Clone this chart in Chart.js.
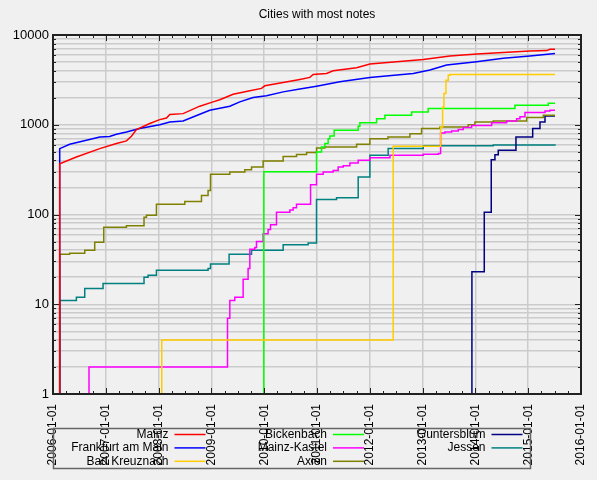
<!DOCTYPE html>
<html>
<head>
<meta charset="utf-8">
<title>Cities with most notes</title>
<script src="https://cdn.jsdelivr.net/npm/chart.js@4/dist/chart.umd.min.js"></script>
<style>
  html, body { margin: 0; padding: 0; background: #f0f0f0; }
  canvas { display: block; }
</style>
</head>
<body>
<canvas id="notesChart" width="597" height="480"></canvas>
<script>
// Cities with most notes — cumulative note counts, log scale

const TITLE = 'Cities with most notes';

// x axis: years, labelled as YYYY-01-01
const xTickYears = [2006, 2007, 2008, 2009, 2010, 2011, 2012, 2013, 2014, 2015, 2016];
// y axis: labelled decades, gridlines at every 1..9 step
const yTickLabels = [1, 10, 100, 1000, 10000];
const yMinorSteps = [1, 2, 3, 4, 5, 6, 7, 8, 9];

const cities = ['Mainz', 'Frankfurt am Main', 'Bad Kreuznach', 'Bickenbach',
                'Mainz-Kastel', 'Axien', 'Guntersblum', 'Jessen'];

// dates as decimal years, values = number of notes
const mainzYears = [2006.127, 2006.127, 2006.443, 2006.885, 2007.201, 2007.391, 2007.486, 2007.580,
    2007.832, 2008.022, 2008.149, 2008.212, 2008.464, 2008.780, 2009.032, 2009.159, 2009.411,
    2009.728, 2009.949, 2010.012, 2010.359, 2010.675, 2010.864, 2010.927, 2011.181, 2011.306,
    2011.750, 2012.002, 2012.507, 2013.012, 2013.518, 2014.023, 2014.528, 2015.033, 2015.350,
    2015.412, 2015.507];
const mainzNotes = [1, 368, 437, 542, 617, 661, 745, 884, 1031, 1140, 1190, 1300, 1330, 1610, 1800,
    1900, 2190, 2390, 2540, 2716, 2955, 3200, 3370, 3640, 3730, 3990, 4310, 4740, 5030, 5350, 5830,
    6140, 6400, 6640, 6700, 6920, 6920];

const frankfurtYears = [2006.127, 2006.127, 2006.316, 2006.633, 2006.885, 2007.074, 2007.201, 2007.391,
    2007.643, 2008.022, 2008.212, 2008.464, 2008.780, 2008.969, 2009.349, 2009.538, 2009.790,
    2010.044, 2010.359, 2010.675, 2010.991, 2011.432, 2012.002, 2012.822, 2013.138, 2013.455,
    2014.023, 2014.528, 2015.033, 2015.507];
const frankfurtNotes = [1, 542, 606, 671, 731, 741, 783, 830, 908, 1000, 1075, 1100, 1310, 1450, 1610,
    1800, 2015, 2100, 2325, 2500, 2690, 3010, 3370, 3730, 4070, 4620, 5030, 5500, 5830, 6240];

const kreuznachYears = [2007.226, 2008.060, 2012.443, 2013.341, 2013.379, 2013.404, 2013.442,
    2013.486, 2013.518, 2015.507];
const kreuznachNotes = [1, 4, 575, 945, 1580, 2230, 3140, 3570, 3640, 3640];

const bickenbachYears = [2009.993, 2009.993, 2010.991, 2011.086, 2011.149, 2011.211, 2011.244,
    2011.325, 2011.780, 2011.812, 2012.128, 2012.286, 2012.792, 2013.106, 2014.749, 2015.380, 2015.507];
const bickenbachNotes = [1, 300, 497, 565, 620, 700, 750, 868, 962, 1050, 1170, 1277, 1390, 1518,
    1650, 1740, 1740];

const kastelYears = [2006.682, 2006.682, 2009.305, 2009.349, 2009.443, 2009.601, 2009.695, 2009.728,
    2009.822, 2009.854, 2009.980, 2010.074, 2010.120, 2010.233, 2010.486, 2010.548, 2010.612,
    2010.878, 2010.991, 2011.117, 2011.306, 2011.401, 2011.496, 2011.623, 2011.780, 2012.002,
    2012.381, 2013.012, 2013.300, 2013.341, 2013.423, 2013.550, 2013.675, 2013.770, 2013.929,
    2014.308, 2014.592, 2014.781, 2014.844, 2014.939, 2015.318, 2015.412, 2015.507];
const kastelNotes = [1, 2, 7, 11, 12, 19, 25, 41, 43, 50, 61, 68, 77, 106, 112, 119, 130, 215, 280, 297,
    310, 338, 350, 374, 401, 430, 456, 468, 478, 809, 830, 850, 885, 930, 980, 1050, 1100, 1170,
    1230, 1370, 1420, 1450, 1450];

const axienYears = [2006.127, 2006.127, 2006.316, 2006.601, 2006.790, 2006.961, 2007.391, 2007.724,
    2007.770, 2007.959, 2008.496, 2008.812, 2008.937, 2008.983, 2009.349, 2009.633, 2009.760,
    2009.980, 2010.359, 2010.612, 2010.802, 2010.991, 2011.149, 2011.750, 2012.002, 2012.343,
    2012.760, 2012.981, 2013.328, 2013.864, 2013.991, 2014.338, 2014.971, 2015.286, 2015.507];
const axienNotes = [1, 36, 37, 40, 49, 72, 75, 93, 98, 130, 140, 163, 185, 280, 297, 316, 338, 395, 444,
    466, 490, 550, 565, 606, 700, 731, 795, 908, 945, 1000, 1075, 1100, 1207, 1277, 1277];

const guntersblumYears = [2013.934, 2013.934, 2014.168, 2014.300, 2014.370, 2014.433, 2014.768,
    2015.085, 2015.223, 2015.318, 2015.507];
const guntersblumNotes = [1, 23, 106, 408, 464, 520, 731, 908, 1075, 1250, 1250];

const jessenYears = [2006.127, 2006.127, 2006.443, 2006.601, 2006.948, 2007.724, 2007.800, 2007.959,
    2008.937, 2008.983, 2009.335, 2009.760, 2010.359, 2010.832, 2010.991, 2011.370, 2011.780,
    2012.002, 2012.348, 2013.012, 2014.338, 2015.507];
const jessenNotes = [1, 11, 12, 15, 17, 20, 21, 24, 25, 28, 36, 40, 46, 48, 147, 154, 261, 456, 542,
    585, 595, 606];

const colors = ['#ff0000', '#0000ff', '#ffcc00', '#00ff00', '#ff00ff', '#808000', '#000080', '#008080'];
const stepped = [false, false, true, true, true, true, true, true];

const yearsList = [mainzYears, frankfurtYears, kreuznachYears, bickenbachYears,
                   kastelYears, axienYears, guntersblumYears, jessenYears];
const notesList = [mainzNotes, frankfurtNotes, kreuznachNotes, bickenbachNotes,
                   kastelNotes, axienNotes, guntersblumNotes, jessenNotes];

const FONT = '"Liberation Sans", Arial, Helvetica, sans-serif';
const GRID = '#cbcbcb';
const FRAME = '#222222';

Chart.defaults.font.family = FONT;
Chart.defaults.color = '#000';

const datasets = cities.map((name, i) => ({
    label: name,
    data: yearsList[i].map((yr, j) => ({ x: yr, y: notesList[i][j] })),
    borderColor: colors[i],
    backgroundColor: colors[i],
    borderWidth: 1.5,
    pointRadius: 0,
    fill: false,
    tension: 0,
    stepped: stepped[i] ? 'before' : false,
}));

// title, inner tick marks, frame and the 3-column legend
const decorations = {
    id: 'decorations',
    afterDraw(chart) {
        const ctx = chart.ctx;
        const { left, right, top, bottom } = chart.chartArea;
        const xs = chart.scales.x, ys = chart.scales.y;

        ctx.save();
        ctx.fillStyle = '#000';
        ctx.font = '12px ' + FONT;
        ctx.textAlign = 'center';
        ctx.textBaseline = 'middle';
        ctx.fillText(TITLE, (left + right) / 2, 15);

        ctx.strokeStyle = FRAME;
        ctx.lineWidth = 1;
        ctx.beginPath();
        xTickYears.forEach(yr => {
            [0, 0.25, 0.5, 0.75].forEach(q => {
                if (yr + q > 2016) return;
                const px = Math.round(xs.getPixelForValue(yr + q)) + 0.5;
                const len = q === 0 ? 6 : 3;
                ctx.moveTo(px, bottom); ctx.lineTo(px, bottom - len);
                ctx.moveTo(px, top); ctx.lineTo(px, top + len);
            });
        });
        yTickLabels.forEach(dec => {
            yMinorSteps.forEach(m => {
                const v = dec * m;
                if (v > 10000) return;
                const py = Math.round(ys.getPixelForValue(v)) + 0.5;
                const len = m === 1 ? 6 : 3;
                ctx.moveTo(left, py); ctx.lineTo(left + len, py);
                ctx.moveTo(right, py); ctx.lineTo(right - len, py);
            });
        });
        ctx.stroke();

        ctx.lineWidth = 2;
        ctx.strokeRect(left, top, right - left, bottom - top);

        // legend box
        ctx.strokeStyle = '#666';
        ctx.lineWidth = 1.5;
        ctx.strokeRect(53.5, 428.5, 477, 40);
        ctx.font = '12px ' + FONT;
        ctx.textAlign = 'right';
        chart.data.datasets.forEach((ds, i) => {
            const col = Math.floor(i / 3), row = i % 3;
            const tx = 168.5 + col * 158.5;
            const ty = 434.5 + row * 13.4;
            ctx.fillStyle = '#000';
            ctx.fillText(ds.label, tx, ty);
            ctx.strokeStyle = ds.borderColor;
            ctx.lineWidth = 1.5;
            ctx.beginPath();
            ctx.moveTo(tx + 6, ty);
            ctx.lineTo(tx + 37, ty);
            ctx.stroke();
        });
        ctx.restore();
    }
};

new Chart(document.getElementById('notesChart'), {
    type: 'line',
    data: { datasets },
    options: {
        responsive: false,
        animation: false,
        layout: { padding: { top: 35, right: 16, left: 0, bottom: 0 } },
        plugins: {
            legend: { display: false },
            title: { display: false },
            tooltip: { enabled: false },
        },
        scales: {
            x: {
                type: 'linear',
                min: 2006,
                max: 2016,
                afterBuildTicks: s => { s.ticks = xTickYears.map(v => ({ value: v })); },
                afterFit: s => { s.height = 86; s.paddingLeft = 0; s.paddingRight = 0; },
                ticks: {
                    autoSkip: false,
                    minRotation: 90,
                    maxRotation: 90,
                    padding: 10,
                    font: { size: 12 },
                    color: '#000',
                    callback: v => v + '-01-01',
                },
                grid: { color: GRID, lineWidth: 1.5, drawTicks: false },
                border: { display: false },
            },
            y: {
                type: 'logarithmic',
                min: 1,
                max: 10000,
                afterBuildTicks: s => {
                    const t = [];
                    yTickLabels.forEach(dec => yMinorSteps.forEach(m => {
                        if (dec * m <= 10000) t.push({ value: dec * m });
                    }));
                    s.ticks = t;
                },
                afterFit: s => { s.width = 53; s.paddingTop = 0; s.paddingBottom = 0; },
                ticks: {
                    autoSkip: false,
                    padding: 4,
                    font: { size: 13 },
                    color: '#000',
                    callback: v => yTickLabels.includes(v) ? String(v) : '',
                },
                grid: { color: GRID, lineWidth: 1.5, drawTicks: false },
                border: { display: false },
            },
        },
    },
    plugins: [decorations],
});
</script>
</body>
</html>
